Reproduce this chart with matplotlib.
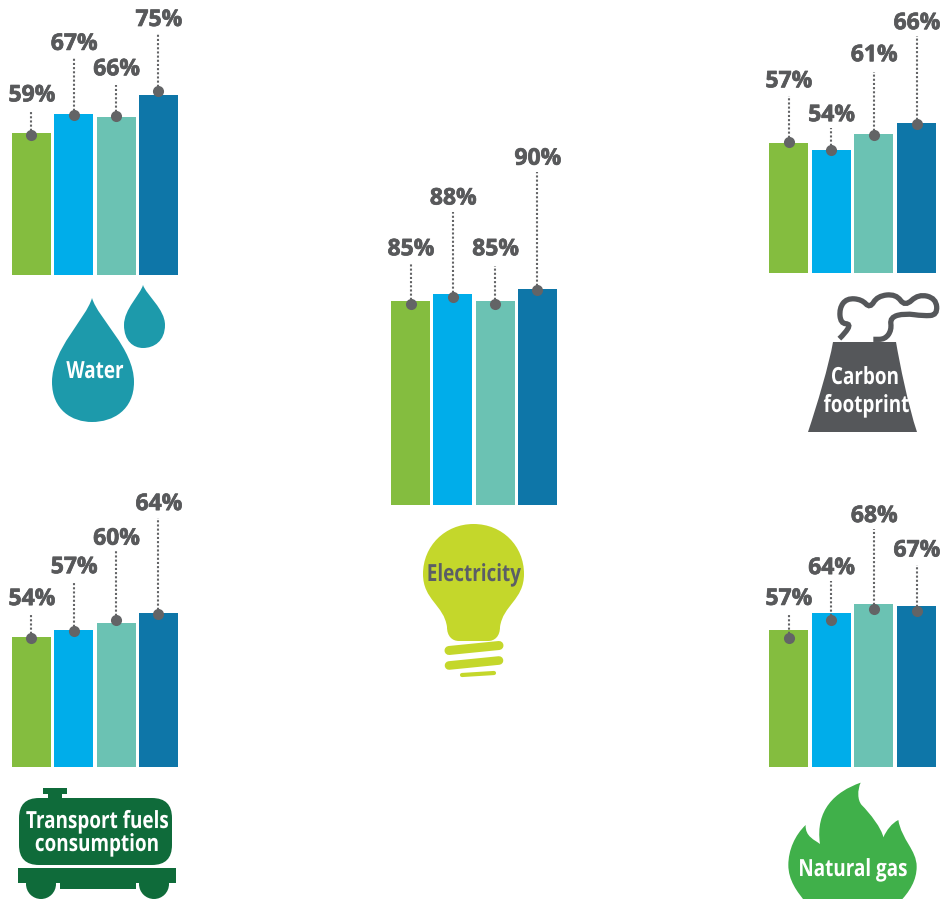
import matplotlib
matplotlib.use('Agg')
import matplotlib.pyplot as plt
from matplotlib.path import Path
from matplotlib.patches import PathPatch, Circle, FancyBboxPatch, Rectangle
from matplotlib.patheffects import AbstractPathEffect, withStroke
from matplotlib.transforms import Affine2D

W, H = 941, 899
GREY = '#58595b'
DOT = '#636466'
BAR_COLORS = ['#84bd3f', '#00adea', '#6bc2b3', '#0e76a8']

water = [59, 67, 66, 75]
electricity = [85, 88, 85, 90]
carbon = [57, 54, 61, 66]
transport = [54, 57, 60, 64]
gas = [57, 64, 68, 67]

# left edge px, bar step px, baseline px, px per percent
# offsets are px above the bar top: dot, top of dotted stem, label centre
groups = [
    (water, 12, 42.33, 275, 2.4, [-2, -0.7, 0.3, 4.3], [23, 57, 32, 62], [40, 72.3, 49.3, 77]),
    (electricity, 391, 42.33, 505, 2.4, [-3, -2.7, -3, -1.3], [37.7, 81.7, 35.3, 117.3], [53.7, 97.3, 53.7, 132.3]),
    (carbon, 769, 42.67, 273, 2.28, [0.7, 0, -1, -1.3], [47, 22, 62, 87], [63.7, 36.7, 80.7, 101.3]),
    (transport, 12, 42.33, 767, 2.4, [-1, -0.7, 3.3, -1], [23.7, 49, 72, 95.7], [40.3, 65, 86.3, 111.3]),
    (gas, 769, 42.67, 767, 2.4, [-7.7, -6.3, -5, -4.7], [17.3, 32, 74.7, 41], [33.3, 47.3, 89.7, 57.7]),
]

BAR_W = 39

fig = plt.figure(figsize=(W / 100, H / 100), dpi=100)
fig.patch.set_facecolor('white')


def draw_group(values, left, step, base, scale, dot_off, stem_off, label_off):
    ax_left = left + BAR_W / 2 - step / 2
    ax = fig.add_axes([ax_left / W, (H - base) / H, 4 * step / W, 100 * scale / H])
    ax.set_xlim(-0.5, 3.5)
    ax.set_ylim(0, 100)
    ax.axis('off')
    for i, v in enumerate(values):
        ax.bar(i, v, width=BAR_W / step, color=BAR_COLORS[i], linewidth=0, zorder=1)
        dot_y = v + dot_off[i] / scale
        ax.plot([i, i], [dot_y, v + stem_off[i] / scale], color=DOT, lw=1.5,
                ls=(0, (1, 1)), dash_capstyle='butt', clip_on=False, zorder=2)
        ax.plot(i, dot_y, 'o', ms=8, color=DOT, mew=0, clip_on=False, zorder=3)
        ax.text(i + 0.4 / step, v + (label_off[i] - 2) / scale, f'{v}%', ha='center', va='center',
                color=GREY, fontsize=16.5, fontweight='bold', family='Open Sans', clip_on=False,
                path_effects=[withStroke(linewidth=0.5, foreground=GREY)])


for g in groups:
    draw_group(*g)

# icons go on a full figure axes in pixel coordinates
ov = fig.add_axes([0, 0, 1, 1], zorder=5)
ov.set_xlim(0, W)
ov.set_ylim(H, 0)
ov.axis('off')


class Squeeze(AbstractPathEffect):
    # no condensed font installed, so narrow the glyphs around x in display px
    def __init__(self, x, sx):
        super().__init__()
        self.x = x
        self.sx = sx

    def draw_path(self, renderer, gc, tpath, affine, rgbFace=None):
        squeeze = Affine2D().translate(-self.x, 0).scale(self.sx, 1).translate(self.x, 0)
        renderer.draw_path(gc, tpath, affine + squeeze, rgbFace)


def bezier(start, segs):
    verts = [start]
    codes = [Path.MOVETO]
    for s in segs:
        verts.extend(s)
        codes.extend([Path.CURVE4] * 3)
    verts.append(start)
    codes.append(Path.CLOSEPOLY)
    return Path(verts, codes)


def drop(tip, left, right, mid_y, bottom, color):
    cx = tip[0]
    h = mid_y - tip[1]
    p = bezier(tip, [
        [(cx + (right - cx) * 0.15, tip[1] + h * 0.25), (right, mid_y - h * 0.4), (right, mid_y)],
        [(right, bottom - (bottom - mid_y) * 0.3), (cx + (right - cx) * 0.5, bottom), (cx, bottom)],
        [(cx - (cx - left) * 0.5, bottom), (left, bottom - (bottom - mid_y) * 0.3), (left, mid_y)],
        [(left, mid_y - h * 0.4), (cx - (cx - left) * 0.15, tip[1] + h * 0.25), tip],
    ])
    ov.add_patch(PathPatch(p, fc=color, ec='none'))


def smooth_line(pts):
    # quadratic spline through the midpoints of pts
    verts = [pts[0]]
    codes = [Path.MOVETO]
    for a, b in zip(pts[1:-1], pts[2:]):
        verts += [a, ((a[0] + b[0]) / 2, (a[1] + b[1]) / 2)]
        codes += [Path.CURVE3, Path.CURVE3]
    verts.append(pts[-1])
    codes.append(Path.LINETO)
    return Path(verts, codes)


def icon_text(x, y, s, color='white', size=17, sx=0.8):
    ov.text(x, y, s, ha='center', va='center', color=color, fontsize=size,
            fontweight='bold', family='Open Sans', path_effects=[Squeeze(x, sx)])


# water
WATER_C = '#1d9aab'
drop((92, 298), 52, 134, 382, 422, WATER_C)
drop((143, 285), 124, 165, 325, 348, WATER_C)
icon_text(95, 372, 'Water')

# electricity
BULB = '#c4d72b'
cx, top = 473.5, 524
bulb = bezier((cx, top), [
    [(cx + 29, top), (524, 546), (524, 574)],
    [(524, 600), (503, 605), (500, 627)],
    [(500, 636), (495, 641), (488, 641)],
    [(475, 641), (470, 641), (459, 641)],
    [(452, 641), (447, 636), (447, 627)],
    [(444, 605), (423, 600), (423, 574)],
    [(423, 546), (445, top), (cx, top)],
])
ov.add_patch(PathPatch(bulb, fc=BULB, ec='none'))
ov.plot([449, 499], [650.5, 645.5], color=BULB, lw=6.5, solid_capstyle='round')
ov.plot([449, 499], [665.5, 660.5], color=BULB, lw=6.2, solid_capstyle='round')
ov.plot([462, 494], [675, 673], color=BULB, lw=3, solid_capstyle='round')
icon_text(474, 575, 'Electricity', color='#5b5e66')

# carbon footprint
CARBON_C = '#55575a'
tower = bezier((833, 342), [
    [(855, 342), (875, 342), (896, 342)],
    [(900, 365), (908, 405), (917, 432)],
    [(880, 432), (845, 432), (808, 432)],
    [(817, 405), (829, 365), (833, 342)],
])
ov.add_patch(PathPatch(tower, fc=CARBON_C, ec='none'))
smoke = [(148, 176), (165, 160), (182, 132), (152, 130), (148, 85), (170, 55), (215, 58), (240, 85),
         (262, 48), (318, 42), (345, 80), (385, 42), (438, 55), (442, 105), (400, 108), (345, 100),
         (300, 112), (305, 150), (285, 178), (250, 178)]
smoke = [(790 + x / 3, 280 + y / 3) for x, y in smoke]
ov.add_patch(PathPatch(smooth_line(smoke), fc='none', ec=CARBON_C, lw=3.8, capstyle='butt'))
icon_text(865, 378, 'Carbon')
icon_text(866.5, 406, 'footprint')

# transport fuels
TANK = '#0f6b3a'
ov.add_patch(FancyBboxPatch((19, 798), 153, 67, boxstyle='round,pad=0,rounding_size=20', fc=TANK, ec='none'))
ov.add_patch(Rectangle((43, 788), 24, 6, fc=TANK, ec='none'))
ov.add_patch(Rectangle((48, 793), 14, 6, fc=TANK, ec='none'))
ov.add_patch(Rectangle((18, 868), 158, 15, fc=TANK, ec='none'))
ov.add_patch(Rectangle((60, 880), 76, 9, fc=TANK, ec='none'))
ov.add_patch(Circle((41, 884), 15, fc=TANK, ec='none'))
ov.add_patch(Circle((154, 884), 15, fc=TANK, ec='none'))
icon_text(97.5, 822, 'Transport fuels')
icon_text(97, 845, 'consumption')

# natural gas
FLAME = '#40b04a'
fz = lambda x, y: (770 + x / 3, 770 + y / 3)
flame = bezier(fz(107, 165), [
    [fz(75, 195), fz(55, 240), fz(55, 285)],
    [fz(55, 330), fz(80, 365), fz(110, 400)],
    [fz(200, 410), fz(300, 410), fz(385, 400)],
    [fz(420, 365), fz(440, 330), fz(440, 290)],
    [fz(440, 240), fz(395, 210), fz(385, 150)],
    [fz(365, 160), fz(350, 180), fz(340, 202)],
    [fz(335, 175), fz(300, 130), fz(275, 105)],
    [fz(262, 90), fz(262, 60), fz(272, 38)],
    [fz(195, 65), fz(135, 120), fz(150, 222)],
    [fz(135, 210), fz(105, 200), fz(107, 165)],
])
ov.add_patch(PathPatch(flame, fc=FLAME, ec='none'))
icon_text(853, 870, 'Natural gas')

fig.savefig('out.png', dpi=100)
